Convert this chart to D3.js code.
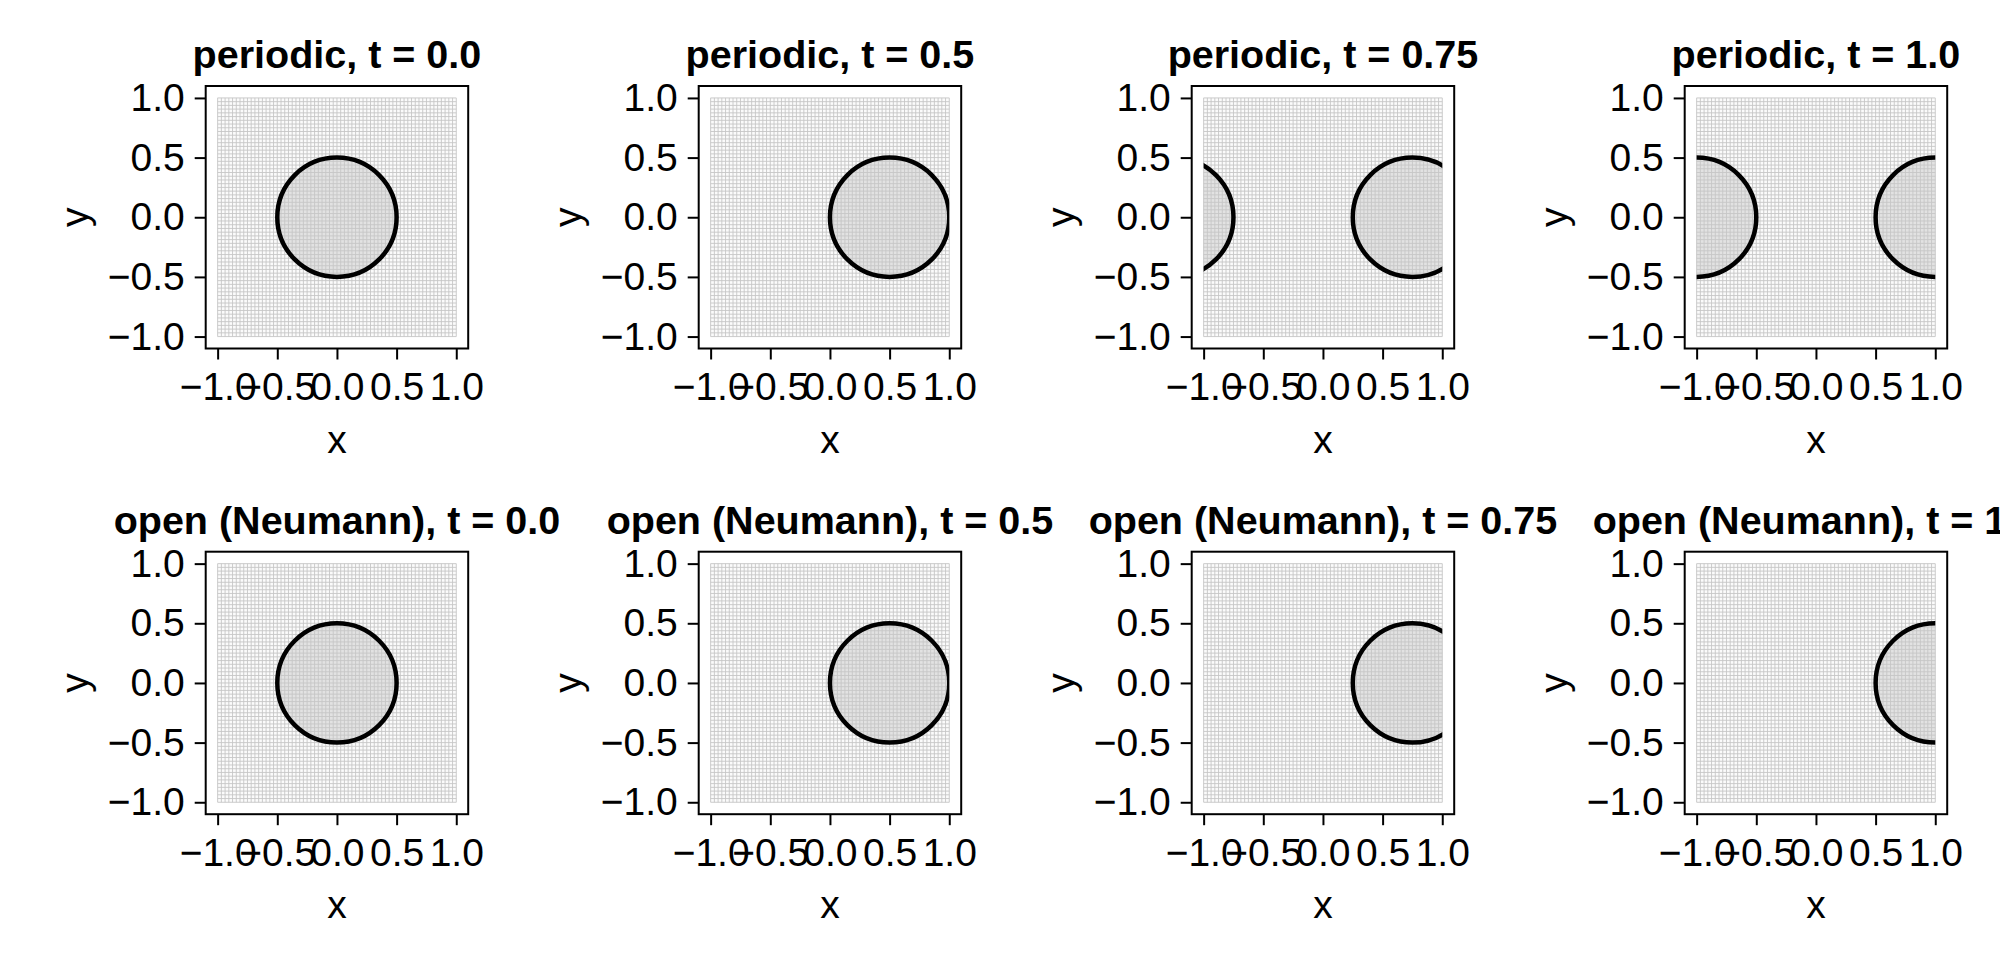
<!DOCTYPE html>
<html><head><meta charset="utf-8">
<script src="https://cdn.jsdelivr.net/npm/d3@7"></script>
<style>body{margin:0;background:#fff;} svg{display:block;}</style>
</head><body>
<svg id="chart" width="2000" height="960"></svg>
<script>
// ---- data ----
const boundaryConditions = ["periodic", "open (Neumann)"];
const timeLabels = ["0.0", "0.5", "0.75", "1.0"];
const centerX = [0.0, 0.5, 0.75, 1.0];   // circle centre x at each time
const centerY = [0.0, 0.0, 0.0, 0.0];
const radius = 0.5;
const periodicShifts = [-2, 0, 2];      // images for periodic domain of length 2
const axisTicks = [-1.0, -0.5, 0.0, 0.5, 1.0];
const axisTickLabels = ["−1.0", "−0.5", "0.0", "0.5", "1.0"];
const domainLimits = [-1, 1];
const axisLimits = [-1.1, 1.1];
const gridCells = 64;

// ---- layout ----
const svg = d3.select("#chart");
const colLeft = [205.7, 698.7, 1191.7, 1684.7];
const rowTop = [86, 551.7];
const size = 262.5;
const font = "'Liberation Sans', Arial, Helvetica, sans-serif";
const tickFs = 39, titleFs = 39.5;

const gridVals = d3.range(gridCells + 1).map(i => domainLimits[0] + i * (domainLimits[1] - domainLimits[0]) / gridCells);

boundaryConditions.forEach((bc, r) => {
  timeLabels.forEach((tl, c) => {
    const x0 = colLeft[c], y0 = rowTop[r];
    const xs = d3.scaleLinear().domain(axisLimits).range([x0, x0 + size]);
    const ys = d3.scaleLinear().domain(axisLimits).range([y0 + size, y0]);
    const g = svg.append("g");
    const clipId = `clip-${r}-${c}`;
    g.append("clipPath").attr("id", clipId).append("rect")
      .attr("x", xs(domainLimits[0])).attr("y", ys(domainLimits[1]))
      .attr("width", xs(domainLimits[1]) - xs(domainLimits[0]))
      .attr("height", ys(domainLimits[0]) - ys(domainLimits[1]));

    // domain background
    g.append("rect")
      .attr("x", xs(domainLimits[0])).attr("y", ys(domainLimits[1]))
      .attr("width", xs(domainLimits[1]) - xs(domainLimits[0]))
      .attr("height", ys(domainLimits[0]) - ys(domainLimits[1]))
      .attr("fill", "#fbfbfb");

    const shifts = bc === "periodic" ? periodicShifts : [0];
    const circles = shifts.map(s => ({cx: centerX[c] + s, cy: centerY[c]}))
      .filter(d => d.cx - radius < domainLimits[1] - 1e-9 && d.cx + radius > domainLimits[0] + 1e-9);
    const cg = g.append("g").attr("clip-path", `url(#${clipId})`);
    cg.selectAll("circle.fill").data(circles).join("circle").attr("class", "fill")
      .attr("cx", d => xs(d.cx)).attr("cy", d => ys(d.cy))
      .attr("r", xs(radius) - xs(0))
      .attr("fill", "#e2e2e2");

    // mesh lines
    const mg = g.append("g");
    mg.selectAll("line.v").data(gridVals).join("line").attr("class", "v")
      .attr("x1", d => xs(d)).attr("x2", d => xs(d))
      .attr("y1", ys(domainLimits[0])).attr("y2", ys(domainLimits[1]))
      .attr("stroke", "#c6c6c6").attr("stroke-width", 0.9);
    mg.selectAll("line.h").data(gridVals).join("line").attr("class", "h")
      .attr("y1", d => ys(d)).attr("y2", d => ys(d))
      .attr("x1", xs(domainLimits[0])).attr("x2", xs(domainLimits[1]))
      .attr("stroke", "#c6c6c6").attr("stroke-width", 0.9);

    // contour
    const cg2 = g.append("g").attr("clip-path", `url(#${clipId})`);
    cg2.selectAll("circle.edge").data(circles).join("circle").attr("class", "edge")
      .attr("cx", d => xs(d.cx)).attr("cy", d => ys(d.cy))
      .attr("r", xs(radius) - xs(0))
      .attr("fill", "none").attr("stroke", "#000").attr("stroke-width", 4.5);

    // frame
    g.append("rect").attr("x", x0).attr("y", y0).attr("width", size).attr("height", size)
      .attr("fill", "none").attr("stroke", "#000").attr("stroke-width", 2);

    // axes
    const xAxis = d3.axisBottom(xs).tickValues(axisTicks).tickFormat((d, i) => axisTickLabels[i])
      .tickSize(11).tickPadding(13);
    const ax = g.append("g").attr("transform", `translate(0,${y0 + size})`).call(xAxis);
    ax.select(".domain").remove();
    ax.selectAll(".tick line").attr("stroke", "#000").attr("stroke-width", 2);
    ax.selectAll(".tick text").attr("font-family", font).attr("font-size", tickFs).attr("fill", "#000");

    const yAxis = d3.axisLeft(ys).tickValues(axisTicks).tickFormat((d, i) => axisTickLabels[i])
      .tickSize(11).tickPadding(10);
    const ay = g.append("g").attr("transform", `translate(${x0},0)`).call(yAxis);
    ay.select(".domain").remove();
    ay.selectAll(".tick line").attr("stroke", "#000").attr("stroke-width", 2);
    ay.selectAll(".tick text").attr("font-family", font).attr("font-size", tickFs).attr("fill", "#000");

    // labels
    g.append("text").attr("x", x0 + size / 2).attr("y", y0 + size + 104)
      .attr("text-anchor", "middle").attr("font-family", font).attr("font-size", tickFs).text("x");
    g.append("text").attr("transform", `translate(${x0 - 118},${y0 + size / 2}) rotate(-90)`)
      .attr("text-anchor", "middle").attr("font-family", font).attr("font-size", tickFs).text("y");
    g.append("text").attr("x", x0 + size / 2).attr("y", y0 - 18)
      .attr("text-anchor", "middle").attr("font-family", font).attr("font-size", titleFs)
      .attr("font-weight", "bold").text(`${bc}, t = ${tl}`);
  });
});
</script>
</body></html>
